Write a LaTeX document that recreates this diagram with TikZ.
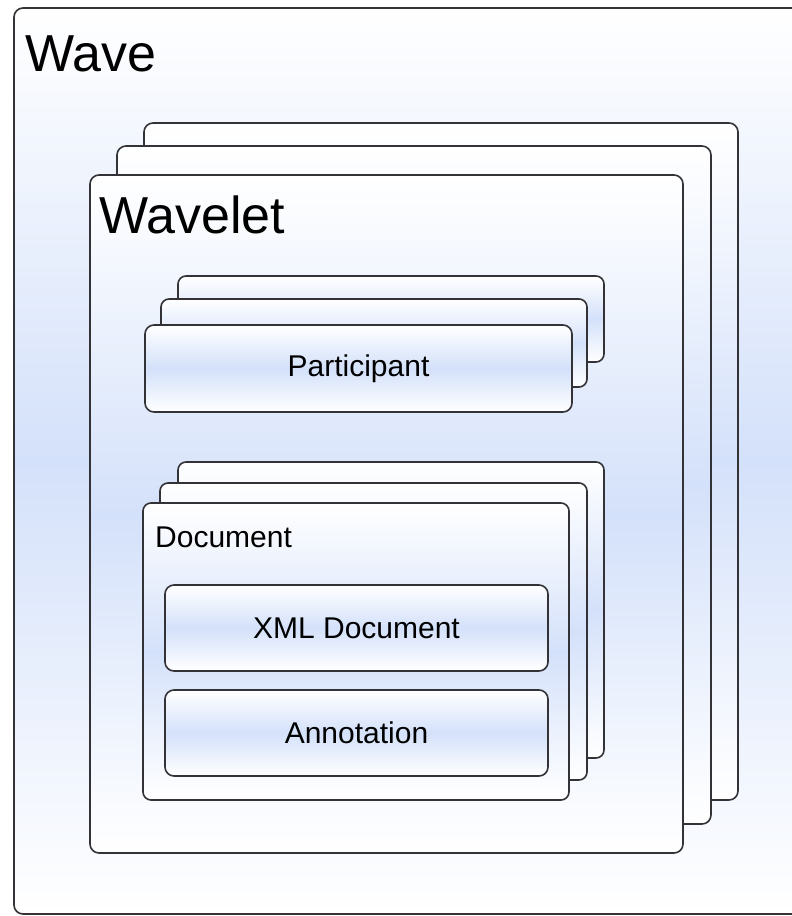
\documentclass[tikz,border=0pt]{standalone}
\usepackage{fontspec}
\setmainfont{Liberation Sans}
\definecolor{bandblue}{RGB}{212,225,250}
\definecolor{edgegray}{RGB}{50,50,55}
\tikzset{
  panel/.style={draw=edgegray, line width=1.6pt, rounded corners=9pt,
    top color=white, bottom color=white, middle color=bandblue},
  itembox/.style={panel, inner sep=0pt, font=\fontsize{30}{36}\selectfont},
  bigtitle/.style={anchor=base west, inner sep=0pt, font=\fontsize{52}{60}\selectfont},
  smalltitle/.style={anchor=base west, inner sep=0pt, font=\fontsize{30}{36}\selectfont}
}
\begin{document}
\begin{tikzpicture}[x=1pt,y=-1pt]
    \clip (0,0) rectangle (792,916);
    \fill[white] (0,0) rectangle (792,916);
    % Wave
    \draw[panel] (14,8) rectangle (840,914);
    \node[bigtitle] (wave) at (25,71) {Wave};
    % Wavelet stack
    \draw[panel] (144,123) rectangle (738,800);
    \draw[panel] (117,146) rectangle (711,824);
    \draw[panel] (90,175) rectangle (683,853);
    \node[bigtitle] (wavelet) at (99,233) {Wavelet};
    % Participant stack
    \draw[panel, rounded corners=8pt] (178,276) rectangle (604,362);
    \draw[panel, rounded corners=8pt] (161,299) rectangle (587,387);
    \node[itembox, minimum width=427pt, minimum height=87pt] (participant) at (358.5,368.5) {Participant};
    % Document stack
    \draw[panel, rounded corners=8pt] (178,462) rectangle (604,758);
    \draw[panel, rounded corners=8pt] (160,483) rectangle (587,780);
    \draw[panel, rounded corners=8pt] (143,503) rectangle (569,800);
    \node[smalltitle] (document) at (155,547) {Document};
    \node[itembox, minimum width=383pt, minimum height=86pt] (xmldoc) at (356.5,628) {XML Document};
    \node[itembox, minimum width=383pt, minimum height=86pt] (annotation) at (356.5,733) {Annotation};
\end{tikzpicture}
\end{document}
